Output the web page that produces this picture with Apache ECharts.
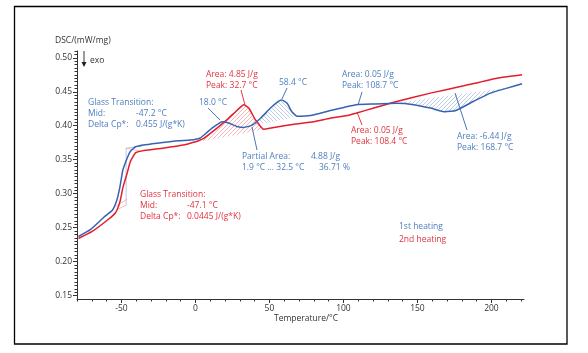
<!DOCTYPE html>
<html>
<head>
<meta charset="utf-8">
<script src="https://cdn.jsdelivr.net/npm/echarts@6/dist/echarts.min.js"></script>
<style>
html, body { margin: 0; padding: 0; background: #fff; }
#main { width: 588px; height: 353px; }
</style>
</head>
<body>
<div id="main"></div>
<script>
// 1st heating (blue)
var blueT = [-79, -71, -62, -56, -53, -51, -49, -46, -44, -40.5, -34, -22, -11.5, -3.4, 1.9, 3.4, 8.8, 13.5, 18, 22.5, 28, 32.7, 38, 44, 50.7, 56, 58.4, 62, 65, 68.7, 77.7, 91.2, 100.2, 108.7, 120.5, 136, 147.5, 158.8, 168.7, 176, 188, 199.3, 210.6, 220.7];
var blueDsc = [0.237, 0.247, 0.265, 0.276, 0.291, 0.310, 0.335, 0.353, 0.362, 0.369, 0.372, 0.3755, 0.378, 0.379, 0.381, 0.382, 0.392, 0.400, 0.406, 0.404, 0.399, 0.3975, 0.4005, 0.411, 0.426, 0.436, 0.438, 0.433, 0.421, 0.414, 0.415, 0.4225, 0.427, 0.431, 0.432, 0.433, 0.431, 0.426, 0.4205, 0.4225, 0.436, 0.448, 0.4554, 0.4618];
// 2nd heating (red)
var redT = [-79, -70, -59, -54, -51, -49, -46, -44, -40.5, -36, -22, -7, -3, 2, 5.6, 14.6, 21.4, 28, 32.7, 36, 40.5, 44, 46, 64, 80, 91, 102.5, 108.4, 120.5, 136, 158.8, 181.3, 203.8, 220.7];
var redDsc = [0.234, 0.244, 0.262, 0.272, 0.288, 0.309, 0.331, 0.347, 0.360, 0.363, 0.367, 0.372, 0.3745, 0.378, 0.3815, 0.3966, 0.409, 0.4225, 0.431, 0.426, 0.409, 0.399, 0.395, 0.4015, 0.406, 0.411, 0.415, 0.4185, 0.426, 0.4357, 0.448, 0.4588, 0.470, 0.475];

var xTicks = [-50, 0, 50, 100, 150, 200];
var yTicks = [0.15, 0.20, 0.25, 0.30, 0.35, 0.40, 0.45, 0.50];

var BLUE = '#3563b2', RED = '#e31e2c';
var BLUE_TXT = '#4f7dbd', RED_TXT = '#e0333f';
var FONT = 'Open Sans';

function pairs(xs, ys) {
	var out = [];
	for (var i = 0; i < xs.length; i++) out.push([xs[i], ys[i]]);
	return out;
}

var xMinor = [];
for (var t = -80; t <= 220; t += 10) xMinor.push(t);
var yMinor = [];
for (var k = 30; k <= 102; k++) yMinor.push(+(k * 0.005).toFixed(3));

function makeHatch(color, dir) {
	var c = document.createElement('canvas');
	c.width = 4; c.height = 4;
	var g = c.getContext('2d');
	g.strokeStyle = color;
	g.lineWidth = 0.6;
	g.beginPath();
	if (dir > 0) {
		g.moveTo(0, 4); g.lineTo(4, 0);
		g.moveTo(-1, 1); g.lineTo(1, -1);
		g.moveTo(3, 5); g.lineTo(5, 3);
	} else {
		g.moveTo(0, 0); g.lineTo(4, 4);
		g.moveTo(3, -1); g.lineTo(5, 1);
		g.moveTo(-1, 3); g.lineTo(1, 5);
	}
	g.stroke();
	return { image: c, repeat: 'repeat' };
}

// hatched area between curve and its straight baseline (closing edge)
function hatchSeries(xs, ys, from, to, fill) {
	return {
		type: 'custom',
		silent: true,
		z: 1,
		data: [[0, 0.3]],
		renderItem: function (params, api) {
			var pts = [];
			for (var i = 0; i < xs.length; i++) {
				if (xs[i] >= from && xs[i] <= to) pts.push(api.coord([xs[i], ys[i]]));
			}
			return { type: 'polygon', shape: { points: pts, smooth: 0.15 }, style: { fill: fill, stroke: null } };
		}
	};
}

function thinLine(data, color) {
	return {
		type: 'line', data: data, symbol: 'none', silent: true, z: 2,
		lineStyle: { color: color, width: 0.7 }
	};
}

function txt(x, y, s, color) {
	return {
		type: 'text', x: x, y: y, silent: true,
		style: { text: s, fill: color, font: '8.5px "' + FONT + '"', textVerticalAlign: 'middle' }
	};
}
function seg(x1, y1, x2, y2, color) {
	return { type: 'line', silent: true, shape: { x1: x1, y1: y1, x2: x2, y2: y2 }, style: { stroke: color, lineWidth: 0.9 } };
}

var chart = echarts.init(document.getElementById('main'));

var option = {
	animation: false,
	backgroundColor: '#fff',
	grid: { left: 77, top: 51, right: 64, bottom: 54 },
	xAxis: [{
		type: 'value', min: -80, max: 222,
		axisLine: { onZero: false, lineStyle: { color: '#333', width: 1 } },
		axisTick: { customValues: xTicks, length: 4, lineStyle: { color: '#333' } },
		axisLabel: { customValues: xTicks, margin: 5, color: '#333', fontSize: 8.5, fontFamily: FONT },
		splitLine: { show: false }
	}, {
		type: 'value', min: -80, max: 222, position: 'bottom',
		axisLine: { show: false, onZero: false },
		axisTick: { customValues: xMinor, length: 2.5, lineStyle: { color: '#333' } },
		axisLabel: { show: false },
		splitLine: { show: false }
	}],
	yAxis: [{
		type: 'value', min: 0.145, max: 0.51,
		axisLine: { show: true, onZero: false, lineStyle: { color: '#333', width: 1 } },
		axisTick: { customValues: yTicks, length: 4, lineStyle: { color: '#333' } },
		axisLabel: {
			customValues: yTicks, margin: 5, color: '#333', fontSize: 8.5, fontFamily: FONT,
			formatter: function (v) { return v.toFixed(2); }
		},
		splitLine: { show: false }
	}, {
		type: 'value', min: 0.145, max: 0.51, position: 'left',
		axisLine: { show: false, onZero: false },
		axisTick: { customValues: yMinor, length: 2.5, lineStyle: { color: '#333' } },
		axisLabel: { show: false },
		splitLine: { show: false }
	}],
	series: [
		hatchSeries(redT, redDsc, -3, 46, makeHatch('rgba(227,30,44,0.55)', 1)),
		hatchSeries(blueT, blueDsc, 38, 68.7, makeHatch('rgba(53,99,178,0.55)', -1)),
		hatchSeries(blueT, blueDsc, 136, 210.6, makeHatch('rgba(53,99,178,0.55)', 1)),
		// glass transition construction lines
		thinLine([[-46.8, 0.284], [-46.8, 0.367], [-36, 0.370]], '#9aaed3'),
		thinLine([[-46.8, 0.367], [-36, 0.362]], '#eda0a6'),
		thinLine([[-54, 0.281], [-46.1, 0.292]], '#eda0a6'),
		thinLine([[-52.9, 0.2765], [-46.1, 0.284]], '#eda0a6'),
		{
			name: '1st heating', type: 'line', data: pairs(blueT, blueDsc), symbol: 'none',
			smooth: 0.15, z: 4,
			lineStyle: { color: BLUE, width: 1.5 }
		},
		{
			name: '2nd heating', type: 'line', data: pairs(redT, redDsc), symbol: 'none',
			smooth: 0.15, z: 3,
			lineStyle: { color: RED, width: 1.5 }
		}
	],
	graphic: [
		{ type: 'rect', silent: true, shape: { x: 14.5, y: 6.5, width: 552.5, height: 337.5 }, style: { fill: null, stroke: '#000', lineWidth: 1.3 } },
		txt(55, 41, 'DSC/(mW/mg)', '#333'),
		seg(84, 51, 84, 63, '#222'),
		{ type: 'polygon', silent: true, shape: { points: [[81.5, 62], [86.5, 62], [84, 67]] }, style: { fill: '#222' } },
		txt(90, 61, 'exo', '#333'),
		{ type: 'text', silent: true, x: 306, y: 319, style: { text: 'Temperature/°C', fill: '#333', font: '8.5px "' + FONT + '"', textAlign: 'center', textVerticalAlign: 'middle' } },

		txt(88, 103, 'Glass Transition:', BLUE_TXT),
		txt(88, 114, 'Mid:', BLUE_TXT), txt(136, 114, '-47.2 °C', BLUE_TXT),
		txt(88, 125, 'Delta Cp*:', BLUE_TXT), txt(136, 125, '0.455 J/(g*K)', BLUE_TXT),

		txt(140, 195, 'Glass Transition:', RED_TXT),
		txt(140, 206, 'Mid:', RED_TXT), txt(187, 206, '-47.1 °C', RED_TXT),
		txt(140, 217, 'Delta Cp*:', RED_TXT), txt(187, 217, '0.0445 J/(g*K)', RED_TXT),

		txt(206, 75, 'Area: 4.85 J/g', RED_TXT),
		txt(206, 86, 'Peak: 32.7 °C', RED_TXT),
		seg(241, 90, 245, 105, RED),

		txt(199, 103, '18.0 °C', BLUE_TXT),
		seg(208, 108, 220, 120, BLUE),

		txt(279, 83, '58.4 °C', BLUE_TXT),
		seg(287, 88, 282, 99, BLUE),

		txt(242, 157, 'Partial Area:', BLUE_TXT), txt(311, 157, '4.88 J/g', BLUE_TXT),
		txt(242, 168, '1.9 °C ... 32.5 °C', BLUE_TXT), txt(319, 168, '36.71 %', BLUE_TXT),
		seg(252, 127, 257, 150, BLUE),

		txt(342, 75, 'Area: 0.05 J/g', BLUE_TXT),
		txt(342, 86, 'Peak: 108.7 °C', BLUE_TXT),
		seg(362, 92, 358, 105, BLUE),

		txt(351, 131, 'Area: 0.05 J/g', RED_TXT),
		txt(351, 142, 'Peak: 108.4 °C', RED_TXT),
		seg(357, 112, 362, 125, RED),

		txt(457, 137, 'Area: -6.44 J/g', BLUE_TXT),
		txt(457, 148, 'Peak: 168.7 °C', BLUE_TXT),
		seg(455, 93, 467, 130, BLUE),

		txt(399, 227, '1st heating', BLUE_TXT),
		txt(399, 240, '2nd heating', RED_TXT)
	]
};

chart.setOption(option);
</script>
</body>
</html>
